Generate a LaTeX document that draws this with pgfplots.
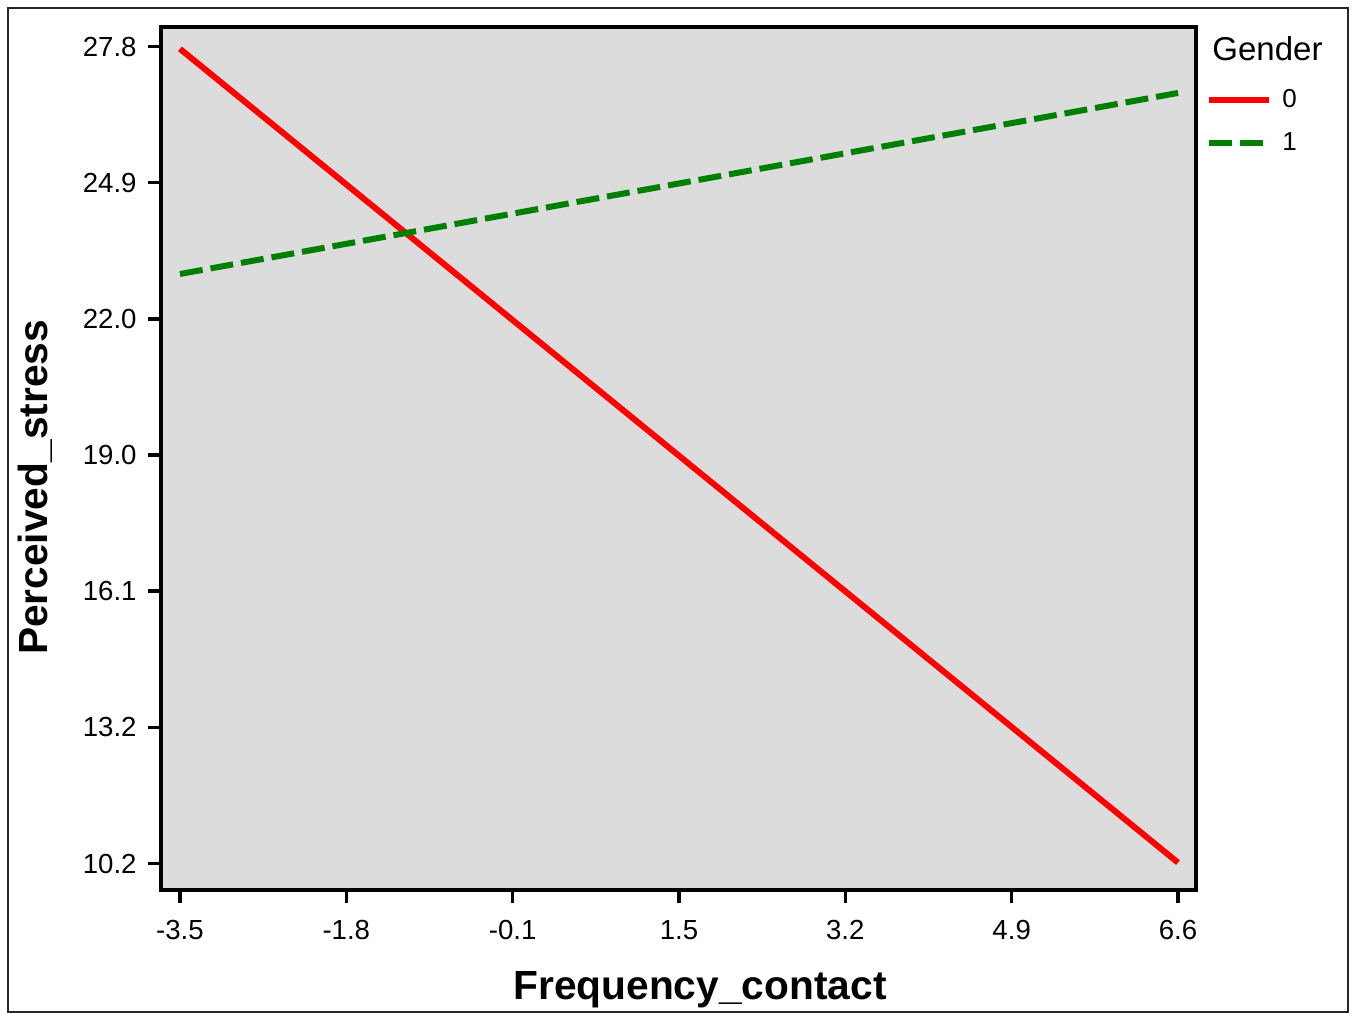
\documentclass[border=0pt]{standalone}
\usepackage{pgfplots}
\pgfplotsset{compat=1.18}
\usepackage{fontspec}
\setmainfont{Liberation Sans}
\definecolor{bggray}{RGB}{220,220,220}
\definecolor{myred}{RGB}{255,0,0}
\definecolor{mygreen}{RGB}{0,128,0}
\begin{document}
\begin{tikzpicture}
\useasboundingbox (-80.5pt,-61.5pt) rectangle (598pt,445pt);
\draw[black!85, line width=1pt] (-76.5pt,-61pt) rectangle (593.5pt,441pt);
\begin{axis}[
  at={(0pt,0pt)}, anchor=south west,
  scale only axis, width=517.5pt, height=431.25pt,
  xmin=-3.692, xmax=6.782, ymin=9.63, ymax=28.21,
  clip mode=individual,
  axis background/.style={fill=bggray},
  axis line style={line width=2pt},
  tick align=outside,
  xtick={-3.5,-1.816667,-0.133333,1.55,3.233333,4.916667,6.6},
  xticklabels={-3.5,-1.8,-0.1,1.5,3.2,4.9,6.6},
  ytick={10.2,13.133333,16.066667,19.0,21.933333,24.866667,27.8},
  yticklabels={10.2,13.2,16.1,19.0,22.0,24.9,27.8},
  xtick pos=bottom, ytick pos=left,
  major tick length=6.5pt,
  every tick/.style={black, line width=1.75pt},
  /pgf/number format/assume math mode=true,
  tick label style={font=\fontsize{13.8}{16}\selectfont},
  yticklabel style={inner sep=0pt, xshift=-5.5pt},
  xticklabel style={yshift=-5pt},
  xlabel={Frequency\_contact},
  ylabel={Perceived\_stress},
  label style={font=\fontsize{20.35}{24}\selectfont\bfseries},
  xlabel style={at={(axis description cs:0.5208,-0.1264)}, anchor=base},
  ylabel style={at={(axis description cs:-0.1092,0.4667)}, anchor=base},
  legend style={at={(axis description cs:1.00966,0.9409)}, anchor=north west,
    draw=none, fill=none, inner sep=0pt, row sep=0pt,
    font=\fontsize{13}{15}\selectfont,
    nodes={inner sep=0pt, minimum height=21.5pt},
    /tikz/every odd column/.append style={column sep=5pt}},
  legend image code/.code={\draw[#1] (0pt,0pt) -- (30pt,0pt);},
  legend cell align=left,
]
\addplot[myred, line width=3pt] coordinates {(-3.5,27.75) (6.6,10.22)};
\addlegendentry{0}
\addplot[mygreen, line width=3pt, dash pattern=on 11.5pt off 4pt] coordinates {(-3.5,22.90) (6.6,26.80)};
\addlegendentry{1}
\node[anchor=base west, inner sep=0pt, font=\fontsize{16.5}{19}\selectfont] at (axis description cs:1.0155,0.9623) {Gender};
\end{axis}
\end{tikzpicture}
\end{document}
